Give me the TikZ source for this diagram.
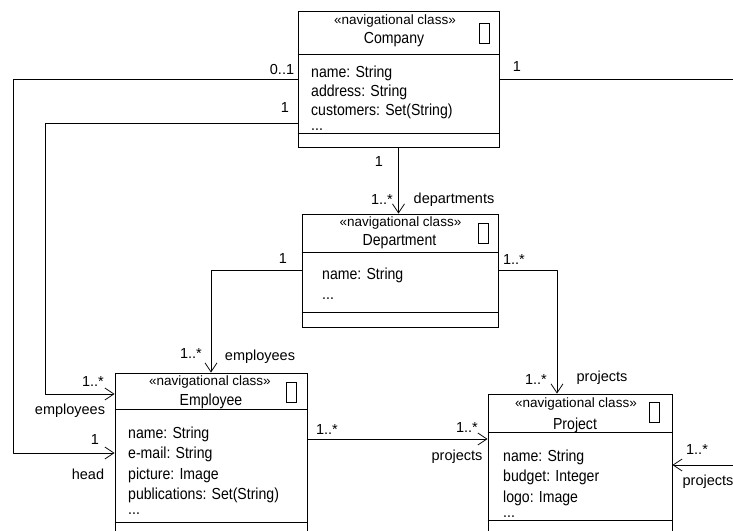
\documentclass[tikz,border=0pt]{standalone}
\usepackage{fontspec}
\setmainfont{Liberation Sans}
\newfontfamily\narrowfont[FakeStretch=0.88]{Liberation Sans}
\usetikzlibrary{arrows.meta}
\tikzset{
  classbox/.style={draw,line width=0.8pt,inner sep=0pt},
  iconbox/.style={draw,line width=0.8pt,inner sep=0pt,minimum width=10pt,minimum height=20pt},
  stereo/.style={font=\fontsize{13.5}{15}\selectfont,inner sep=0pt},
  cname/.style={font=\narrowfont\fontsize{16}{19}\selectfont,inner sep=0pt},
  attrs/.style={font=\narrowfont\fontsize{16}{20.5}\selectfont,align=left,inner sep=0pt,anchor=north west},
  mult/.style={font=\fontsize{14.5}{16}\selectfont,inner sep=0pt},
  assoc/.style={line width=0.8pt,line join=round},
  nav/.style={assoc,-{Straight Barb[length=9pt,width=12pt]}}
}
\begin{document}
\begin{tikzpicture}[x=1pt,y=-1pt]
\useasboundingbox (0,0) rectangle (733,530);
\node[classbox,minimum width=201pt,minimum height=136pt] (company) at (398.5,79) {};
\draw[assoc] (company.west |- 0,54) -- (company.east |- 0,54);
\draw[assoc] (company.west |- 0,133) -- (company.east |- 0,133);
\node[iconbox] (companyicon) at (484,33) {};
\node[stereo] (companyst) at (395,21) {«navigational class»};
\node[cname] (companyname) at (394,40) {Company};
\node[attrs,font=\narrowfont\fontsize{16}{19}\selectfont] (companyattr) at (311,65.5) {name: String\\address: String\\customers: Set(String)\\[-4pt]...};

\node[classbox,minimum width=196pt,minimum height=113pt] (department) at (400,270.5) {};
\draw[assoc] (department.west |- 0,252) -- (department.east |- 0,252);
\draw[assoc] (department.west |- 0,312) -- (department.east |- 0,312);
\node[iconbox] (departmenticon) at (483,233.5) {};
\node[stereo] (departmentst) at (400.5,223) {«navigational class»};
\node[cname] (departmentname) at (399.5,242) {Department};
\node[attrs] (departmentattr) at (322,267.5) {name: String\\...};

\node[classbox,minimum width=192pt,minimum height=200pt] (employee) at (211,473) {};
\draw[assoc] (employee.west |- 0,409) -- (employee.east |- 0,409);
\draw[assoc] (employee.west |- 0,522) -- (employee.east |- 0,522);
\node[iconbox] (employeeicon) at (291.5,392) {};
\node[stereo] (employeest) at (210,382) {«navigational class»};
\node[cname] (employeename) at (211,401) {Employee};
\node[attrs] (employeeattr) at (128,426.5) {name: String\\e-mail: String\\picture: Image\\publications: Set(String)\\[-6pt]...};

\node[classbox,minimum width=184pt,minimum height=200pt] (project) at (580,494) {};
\draw[assoc] (project.west |- 0,432) -- (project.east |- 0,432);
\draw[assoc] (project.west |- 0,520) -- (project.east |- 0,520);
\node[iconbox] (projecticon) at (654.5,412.5) {};
\node[stereo] (projectst) at (576,404) {«navigational class»};
\node[cname] (projectname) at (575,425) {Project};
\node[attrs] (projectattr) at (503,449.5) {name: String\\budget: Integer\\logo: Image\\[-5pt]...};

\draw[nav] (company.west) -- (13,79) |- (employee.west |- 0,453);
\draw[nav] ([yshift=-44pt]company.west) -- (45,123) |- (employee.west |- 0,394);
\draw[nav] (company.south) -- (company.south |- department.north);
\draw[nav] (department.west) -| (employee.north);
\draw[nav] (department.east) -| ([xshift=-23pt]project.north);
\draw[nav] (employee.east |- 0,439) -- (project.west |- 0,439);
\draw[nav] (company.east) -- (745,79) |- (project.east |- 0,465);

\node[mult] (m01) at (282,70) {0..1};
\node[mult] (m1a) at (285,108) {1};
\node[mult] (m1b) at (517,67) {1};
\node[mult] (m1c) at (379,162) {1};
\node[mult] (mdep) at (382,200) {1..*};
\node[mult] (rdep) at (454,200) {departments};
\node[mult] (m1d) at (283,259) {1};
\node[mult] (mprj) at (514,260) {1..*};
\node[mult] (memp) at (191,354) {1..*};
\node[mult] (remp) at (260,357) {employees};
\node[mult] (memp2) at (93,382) {1..*};
\node[mult] (remp2) at (70,411) {employees};
\node[mult] (mhead) at (95,440) {1};
\node[mult] (rhead) at (88,474) {head};
\node[mult] (mprj2) at (327,430) {1..*};
\node[mult] (mprj3) at (467,428) {1..*};
\node[mult] (rprj3) at (457,457) {projects};
\node[mult] (mprj4) at (536,380) {1..*};
\node[mult] (rprj4) at (602,378) {projects};
\node[mult] (mprj5) at (697,450) {1..*};
\node[mult] (rprj5) at (708,482) {projects};
\end{tikzpicture}
\end{document}
